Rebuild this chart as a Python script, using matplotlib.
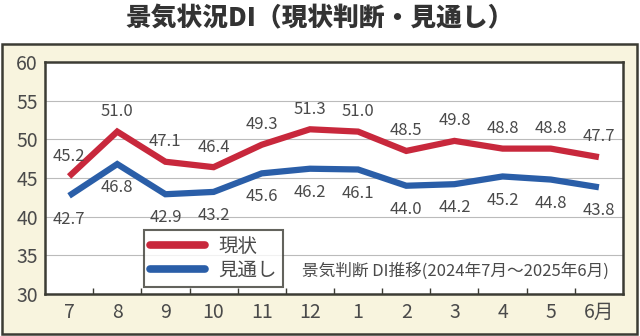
import matplotlib.pyplot as plt
from matplotlib.patches import Rectangle

plt.rcParams['font.family'] = ['Noto Sans CJK JP', 'DejaVu Sans']

# Data
months = ["7", "8", "9", "10", "11", "12", "1", "2", "3", "4", "5", "6月"]
genjo = [45.2, 51.0, 47.1, 46.4, 49.3, 51.3, 51.0, 48.5, 49.8, 48.8, 48.8, 47.7]
mitoshi = [42.7, 46.8, 42.9, 43.2, 45.6, 46.2, 46.1, 44.0, 44.2, 45.2, 44.8, 43.8]
y_ticks = [30, 35, 40, 45, 50, 55, 60]

red = '#C8283C'
blue = '#2A5EA8'
text_col = '#4a4a4a'
frame_col = '#3c3c34'

fig = plt.figure(figsize=(6.4, 3.36), dpi=100)
fig.patch.set_facecolor('white')

# cream outer panel
fig.patches.append(Rectangle((2 / 640, 2 / 336), 635 / 640, 290 / 336,
                             transform=fig.transFigure, facecolor='#F8F4DE',
                             edgecolor=frame_col, linewidth=1.8, zorder=-10))

fig.text(0.5, 0.945, "景気状況DI（現状判断・見通し）", ha='center', va='center',
         fontsize=18.5, fontweight='heavy', color='#333333')

ax = fig.add_axes([45 / 640, 42 / 336, 578 / 640, 232 / 336])
ax.set_facecolor('white')
x = list(range(len(months)))

ax.plot(x, genjo, color=red, linewidth=4.5, solid_capstyle='butt', solid_joinstyle='miter', label='現状', zorder=3)
ax.plot(x, mitoshi, color=blue, linewidth=4.5, solid_capstyle='butt', solid_joinstyle='miter', label='見通し', zorder=3)

for i, v in enumerate(genjo):
    ax.annotate(f"{v:.1f}", (i, v), xytext=(0, 14.5), textcoords='offset points',
                ha='center', va='center', fontsize=12, color=text_col)
for i, v in enumerate(mitoshi):
    ax.annotate(f"{v:.1f}", (i, v), xytext=(0, -17), textcoords='offset points',
                ha='center', va='center', fontsize=12, color=text_col)

ax.set_xlim(-0.5, len(months) - 0.5)
ax.set_ylim(30, 60)
ax.set_yticks(y_ticks)
ax.set_yticklabels([str(t) for t in y_ticks], fontsize=14, color=text_col)
ax.tick_params(axis='y', length=0, pad=5)
ax.set_xticks(x)
ax.set_xticklabels(months, fontsize=14, color=text_col)
ax.tick_params(axis='x', which='major', length=0, pad=6)
ax.set_xticks([i + 0.5 for i in x[:-1]], minor=True)
ax.tick_params(axis='x', which='minor', direction='in', length=4, width=1, color=frame_col)

for t in y_ticks[1:-1]:
    ax.axhline(t, color='#BBBBBB', linewidth=0.8, zorder=1)

for s in ax.spines.values():
    s.set_color(frame_col)
    s.set_linewidth(1.8)

leg = ax.legend(loc='lower left', bbox_to_anchor=(0.172, 0.03), fontsize=14,
                frameon=True, fancybox=False, handlelength=2.8, handletextpad=0.7,
                borderpad=0.3, labelspacing=0.15, borderaxespad=0)
leg.get_frame().set_edgecolor(frame_col)
leg.get_frame().set_linewidth(1.5)
for h in leg.get_lines():
    h.set_solid_capstyle('round')
    h.set_linewidth(5.5)
for t in leg.get_texts():
    t.set_color(text_col)

ax.text(0.975, 0.10, "景気判断 DI推移(2024年7月～2025年6月)", transform=ax.transAxes,
        ha='right', va='center', fontsize=12, color=text_col)

fig.savefig('out.png', dpi=100)
